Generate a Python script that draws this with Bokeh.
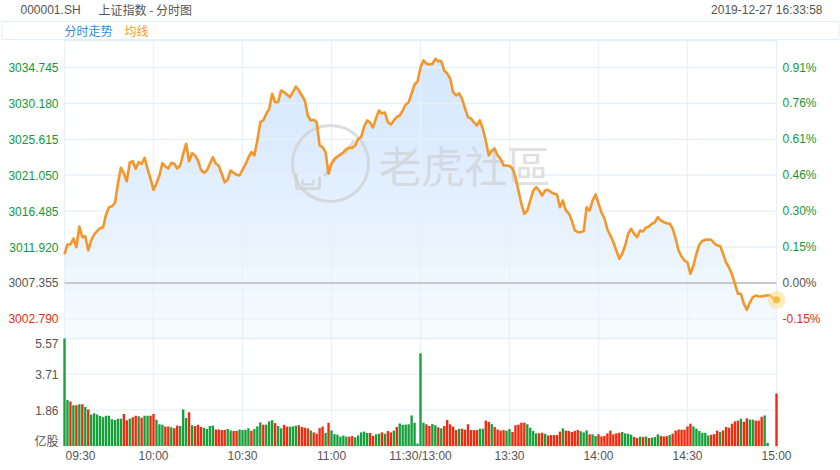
import numpy as np
from bokeh.plotting import figure
from bokeh.models import Range1d
from bokeh.core.properties import value
from bokeh.embed import file_html
from bokeh.resources import INLINE

# ---------------- data ----------------
symbol = "000001.SH"
title_text = "上证指数 - 分时图"
stamp = "2019-12-27 16:33:58"
legend_names = ["分时走势", "均线"]
pre_close = 3007.355

price = [
    3010.97, 3012.24, 3012.24, 3013.00, 3011.89, 3014.53, 3013.17, 3013.29, 3011.48, 3012.75,
    3013.51, 3013.93, 3014.31, 3014.40, 3016.05, 3016.98, 3017.11, 3017.49, 3019.96, 3021.99,
    3021.30, 3020.29, 3022.67, 3022.83, 3021.86, 3022.70, 3022.50, 3023.26, 3021.86, 3020.59,
    3019.19, 3019.99, 3021.01, 3022.58, 3022.16, 3021.90, 3022.63, 3022.50, 3021.90, 3022.28,
    3023.77, 3025.04, 3022.83, 3023.85, 3023.56, 3022.92, 3021.74, 3021.36, 3021.65, 3022.50,
    3023.34, 3022.54, 3022.25, 3021.23, 3020.16, 3020.47, 3021.65, 3021.36, 3021.10, 3021.01,
    3021.74, 3022.41, 3023.30, 3023.98, 3023.56, 3025.46, 3027.79, 3028.01, 3028.86, 3029.49,
    3031.40, 3030.33, 3030.33, 3031.82, 3031.61, 3031.31, 3030.97, 3031.61, 3032.33, 3031.82,
    3031.19, 3030.55, 3028.64, 3028.01, 3028.10, 3027.79, 3024.83, 3024.61, 3023.98, 3021.23,
    3022.50, 3023.14, 3023.43, 3023.68, 3023.98, 3024.38, 3024.53, 3024.53, 3024.83, 3025.68,
    3025.88, 3027.24, 3028.01, 3027.75, 3027.12, 3028.26, 3029.28, 3028.90, 3029.02, 3027.79,
    3027.50, 3028.01, 3028.45, 3028.64, 3029.28, 3030.04, 3030.30, 3031.44, 3032.58, 3032.97,
    3034.75, 3035.64, 3035.22, 3035.13, 3035.19, 3035.85, 3035.55, 3035.55, 3034.36, 3033.98,
    3033.35, 3031.61, 3031.19, 3031.48, 3030.77, 3029.53, 3028.43, 3028.26, 3027.79, 3027.37,
    3028.01, 3026.95, 3025.46, 3023.56, 3024.19, 3024.41, 3023.56, 3023.14, 3022.28, 3022.28,
    3022.22, 3021.90, 3020.80, 3019.10, 3017.41, 3016.14, 3016.56, 3017.83, 3019.10, 3019.52,
    3019.10, 3018.47, 3019.10, 3019.19, 3018.89, 3018.69, 3018.60, 3016.98, 3017.83, 3016.56,
    3016.18, 3015.29, 3014.02, 3013.80, 3013.80, 3013.95, 3016.98, 3016.56, 3017.83, 3018.60,
    3017.45, 3016.31, 3015.54, 3014.15, 3013.38, 3012.53, 3011.48, 3010.42, 3011.06, 3012.11,
    3013.60, 3014.23, 3013.60, 3013.17, 3014.02, 3013.89, 3014.40, 3014.53, 3014.87, 3015.07,
    3015.71, 3015.29, 3015.07, 3014.95, 3014.87, 3014.27, 3013.00, 3011.48, 3010.71, 3010.20,
    3009.95, 3008.51, 3009.57, 3011.06, 3012.24, 3012.68, 3012.84, 3012.87, 3012.84, 3012.40,
    3012.11, 3012.05, 3011.06, 3009.95, 3009.31, 3008.42, 3007.24, 3005.97, 3005.97, 3004.70,
    3003.93, 3004.86, 3005.54, 3005.75, 3005.63, 3005.63, 3005.72, 3005.79, 3005.75, 3005.33,
    3005.21,
]

# volume in 亿股 per minute
volume = [
    5.57, 2.39, 2.31, 2.11, 2.11, 2.16, 2.16, 2.03, 1.89, 1.63,
    1.70, 1.63, 1.56, 1.49, 1.57, 1.57, 1.39, 1.35, 1.42, 1.42,
    1.66, 1.34, 1.42, 1.49, 1.57, 1.54, 1.47, 1.57, 1.57, 1.57,
    1.66, 1.37, 1.13, 1.10, 1.02, 1.02, 0.97, 0.93, 1.06, 1.04,
    1.90, 1.46, 1.75, 1.08, 1.04, 1.11, 0.99, 0.95, 0.88, 1.04,
    1.06, 0.86, 0.86, 0.83, 0.83, 0.88, 0.81, 0.78, 0.78, 0.86,
    0.83, 0.85, 0.92, 0.80, 0.88, 1.02, 1.23, 1.11, 1.11, 1.28,
    1.34, 1.19, 1.04, 0.92, 1.10, 1.01, 1.01, 1.02, 1.06, 1.08,
    0.99, 0.95, 0.92, 0.81, 0.71, 0.64, 0.93, 1.01, 0.69, 1.21,
    0.81, 0.62, 0.59, 0.49, 0.55, 0.49, 0.49, 0.52, 0.45, 0.55,
    0.71, 0.75, 0.68, 0.68, 0.53, 0.61, 0.64, 0.71, 0.64, 0.78,
    0.71, 0.80, 0.99, 1.17, 1.10, 1.11, 1.13, 1.59, 1.21, 0.13,
    4.80, 1.21, 1.13, 1.04, 1.14, 1.08, 0.97, 0.92, 1.04, 1.35,
    1.13, 1.01, 0.83, 0.90, 0.90, 0.85, 1.13, 0.83, 0.83, 0.83,
    0.90, 0.90, 1.32, 1.25, 1.14, 0.99, 0.86, 0.80, 0.83, 0.80,
    0.88, 0.73, 1.08, 1.11, 1.21, 1.21, 1.13, 0.95, 0.78, 0.66,
    0.66, 0.69, 0.64, 0.55, 0.57, 0.57, 0.57, 0.75, 0.92, 0.80,
    0.78, 0.73, 0.78, 0.83, 0.77, 0.71, 0.81, 0.61, 0.61, 0.52,
    0.61, 0.50, 0.53, 0.66, 0.80, 0.61, 0.66, 0.69, 0.73, 0.66,
    0.64, 0.59, 0.47, 0.42, 0.49, 0.47, 0.50, 0.42, 0.44, 0.47,
    0.61, 0.53, 0.50, 0.52, 0.57, 0.64, 0.80, 0.86, 0.85, 0.85,
    1.02, 1.16, 1.02, 0.90, 0.78, 0.69, 0.69, 0.55, 0.59, 0.62,
    0.80, 0.73, 0.81, 0.99, 0.95, 1.16, 1.28, 1.32, 1.42, 1.26,
    1.44, 1.37, 1.37, 1.32, 1.32, 1.52, 1.59, 0.17, 0.00, 0.00,
    2.72,
]

# R = red bar, G = green bar
volume_side = list(
    "GGRGRGRGRG" "GGGGGGGGGG" "RRGRRGRGGR" "RGGGRRGRRG" "GGRGRRRGGG"
    "GRRRRGGRRG" "GGGRGGGRGG" "GRGGRRGGGR" "RRRGRRRRGR" "GGGGGGRRGG"
    "GGGRRGGRGR" "RGRGGGGGGG" "GGRRGGRGRR" "RRRGRRRRRR" "GGRRGRRRRG"
    "GRRRRRGGGG" "RRGRRRRRGR" "RRRRGGGRGG" "RRRRRRRRGG" "GGRRGRGRGG"
    "GRRRGRRRRR" "RRGGGGGGRR" "RGRRRRRRGR" "RGGRRRGGGG" "R"
)

price_ticks = [3002.790, 3007.355, 3011.920, 3016.485, 3021.050, 3025.615, 3030.180, 3034.745]
volume_ticks = [1.86, 3.71, 5.57]
volume_unit = "亿股"
time_ticks = [0, 30, 60, 90, 120, 150, 180, 210, 240]
time_labels = ["09:30", "10:00", "10:30", "11:00", "11:30/13:00", "13:30", "14:00", "14:30", "15:00"]
watermark = "老虎社區"

# ---------------- layout constants ----------------
W, H = 840, 470
PX_PER_MIN = 712 / 240.0
X0 = 64.0                      # canvas x of minute 0
PRE_Y = 282.4                  # canvas y of pre-close
PX_PER_PT = 35.9 / 4.565       # pixels per index point
PRICE_TOP_Y, PRICE_BOT_Y = 40.0, 338.0
VOL_BASE_Y = 445.6
PX_PER_VOL = (VOL_BASE_Y - PRICE_BOT_Y) / 5.57

x_range = Range1d(-X0 / PX_PER_MIN, (W - X0) / PX_PER_MIN)
y_range = Range1d(pre_close - (H - PRE_Y) / PX_PER_PT, pre_close + PRE_Y / PX_PER_PT)

p = figure(width=W, height=H, x_range=x_range, y_range=y_range,
           output_backend="svg", toolbar_location=None, min_border=0,
           x_axis_location=None, y_axis_location=None,
           outline_line_color=None, background_fill_color="white",
           border_fill_color="white")
p.grid.visible = False
p.extra_y_ranges = {
    "vol": Range1d(-(H - VOL_BASE_Y) / PX_PER_VOL, VOL_BASE_Y / PX_PER_VOL),
    "px": Range1d(H, 0),
}
p.extra_x_ranges = {"px": Range1d(0, W)}

def price_at(cy):
    return pre_close + (PRE_Y - cy) / PX_PER_PT

p_top = price_at(PRICE_TOP_Y)
p_bot = price_at(PRICE_BOT_Y)

mins = np.arange(len(price))
pr = np.array(price)

NUM_FONT = value("Liberation Sans")
CJK_FONT = value("Noto Sans CJK SC")
GRAY = "#555555"
GREEN = "#109a3a"
RED = "#ee2a10"
GRID = "#e6f1f9"

# ---------------- area fill (vertical gradient) ----------------
p.varea(x=mins, y1=np.full(len(pr), p_bot), y2=pr, fill_color="#f6fbfe", fill_alpha=1.0)
for t in np.linspace(p_bot, 3036.0, 13)[1:]:
    p.varea(x=mins, y1=np.full(len(pr), t), y2=np.maximum(pr, t),
            fill_color="#b5e3f8", fill_alpha=0.06)

# ---------------- grid ----------------
grid_other = [t for t in price_ticks if abs(t - pre_close) > 1e-6]
p.segment(x0=[0] * len(grid_other), x1=[240] * len(grid_other), y0=grid_other, y1=grid_other,
          line_color=GRID, line_width=1.3)
p.segment(x0=[0, 0], x1=[240, 240], y0=[p_top, p_bot], y1=[p_top, p_bot],
          line_color=GRID, line_width=1.3)
p.segment(x0=[0] * 3, x1=[240] * 3, y0=volume_ticks, y1=volume_ticks,
          line_color=GRID, line_width=1.3, y_range_name="vol")
p.segment(x0=time_ticks, x1=time_ticks, y0=[PRICE_TOP_Y] * len(time_ticks),
          y1=[VOL_BASE_Y] * len(time_ticks), line_color=GRID, line_width=1.3, y_range_name="px")
p.segment(x0=[0], x1=[240], y0=[pre_close], y1=[pre_close], line_color="#c8c8c8", line_width=2)

# ---------------- watermark ----------------
wm_kw = dict(x_range_name="px", y_range_name="px")
p.scatter(x=[330], y=[163], size=76, marker="circle", fill_color=None,
          line_color="#cfcfcf", line_width=3, line_alpha=0.7, **wm_kw)
p.line(x=[296, 296, 319, 319], y=[173, 188, 188, 176], line_color="#cfcfcf", line_width=3, line_alpha=0.7, **wm_kw)
p.line(x=[302, 302, 313, 313], y=[179, 184, 184, 179], line_color="#cfcfcf", line_width=2.5, line_alpha=0.7, **wm_kw)
p.line(x=[324, 330, 338, 346, 354], y=[176, 164, 156, 151, 140], line_color="#cfcfcf", line_width=3, line_alpha=0.7, **wm_kw)
p.text(x=[378], y=[163], text=[watermark], text_font=value("Noto Sans CJK TC"),
       text_font_size="43px", text_color="#cccccc", text_alpha=0.6,
       text_align="left", text_baseline="middle", **wm_kw)

# ---------------- price line ----------------
p.line(x=mins, y=pr, line_color="#f5962a", line_width=2.6, line_join="round")
p.scatter(x=[mins[-1]], y=[pr[-1]], size=18, fill_color="#f9df86", fill_alpha=0.55, line_color=None)
p.scatter(x=[mins[-1]], y=[pr[-1]], size=7, fill_color="#f4c03a", line_color=None)

# ---------------- volume bars ----------------
vcol = ["#f12a0e" if s == "R" else "#16a03c" for s in volume_side]
p.vbar(x=mins, top=volume, bottom=0, width=0.8, fill_color=vcol, line_color=None,
       y_range_name="vol")

# ---------------- axis labels ----------------
def tick_color(t):
    if abs(t - pre_close) < 1e-6:
        return GRAY
    return GREEN if t > pre_close else RED

pcols = [tick_color(t) for t in price_ticks]
p.text(x=[58] * len(price_ticks), y=price_ticks, text=[f"{t:.3f}" for t in price_ticks],
       text_color=pcols, text_font=NUM_FONT, text_font_size="12px",
       text_align="right", text_baseline="middle", x_range_name="px")
p.text(x=[782] * len(price_ticks), y=price_ticks,
       text=[f"{(t - pre_close) / pre_close * 100:.2f}%" for t in price_ticks],
       text_color=pcols, text_font=NUM_FONT, text_font_size="12px",
       text_align="left", text_baseline="middle", x_range_name="px")

p.text(x=[58, 58], y=volume_ticks[:2], text=[f"{v:.2f}" for v in volume_ticks[:2]],
       text_color=GRAY, text_font=NUM_FONT, text_font_size="12px",
       text_align="right", text_baseline="middle", x_range_name="px", y_range_name="vol")
p.text(x=[58], y=[volume_ticks[2]], text=[f"{volume_ticks[2]:.2f}"], y_offset=5,
       text_color=GRAY, text_font=NUM_FONT, text_font_size="12px",
       text_align="right", text_baseline="middle", x_range_name="px", y_range_name="vol")
p.text(x=[58], y=[440], text=[volume_unit], text_color=GRAY, text_font=CJK_FONT,
       text_font_size="12px", text_align="right", text_baseline="middle", **wm_kw)

p.text(x=[time_ticks[0]], y=[455], text=[time_labels[0]], x_offset=1, text_color=GRAY,
       text_font=NUM_FONT, text_font_size="12px", text_align="left", text_baseline="middle",
       y_range_name="px")
p.text(x=time_ticks[1:], y=[455] * (len(time_ticks) - 1), text=time_labels[1:], text_color=GRAY,
       text_font=NUM_FONT, text_font_size="12px", text_align="center", text_baseline="middle",
       y_range_name="px")

# ---------------- header & legend ----------------
p.text(x=[20], y=[9], text=[symbol], text_color=GRAY, text_font=NUM_FONT,
       text_font_size="12px", text_align="left", text_baseline="middle", **wm_kw)
p.text(x=[98], y=[9], text=[title_text], text_color=GRAY, text_font=CJK_FONT,
       text_font_size="12px", text_align="left", text_baseline="middle", **wm_kw)
p.text(x=[822], y=[9], text=[stamp], text_color=GRAY, text_font=NUM_FONT,
       text_font_size="12px", text_align="right", text_baseline="middle", **wm_kw)
p.quad(left=[1.5], right=[W - 1.5], top=[21], bottom=[39], fill_color=None,
       line_color="#e3eff8", line_width=1, **wm_kw)
p.text(x=[64], y=[30], text=[legend_names[0]], text_color="#2e8be3", text_font=CJK_FONT,
       text_font_size="12px", text_align="left", text_baseline="middle", **wm_kw)
p.text(x=[124], y=[30], text=[legend_names[1]], text_color="#f59a26", text_font=CJK_FONT,
       text_font_size="12px", text_align="left", text_baseline="middle", **wm_kw)

open("out.html", "w").write(file_html(p, INLINE))
